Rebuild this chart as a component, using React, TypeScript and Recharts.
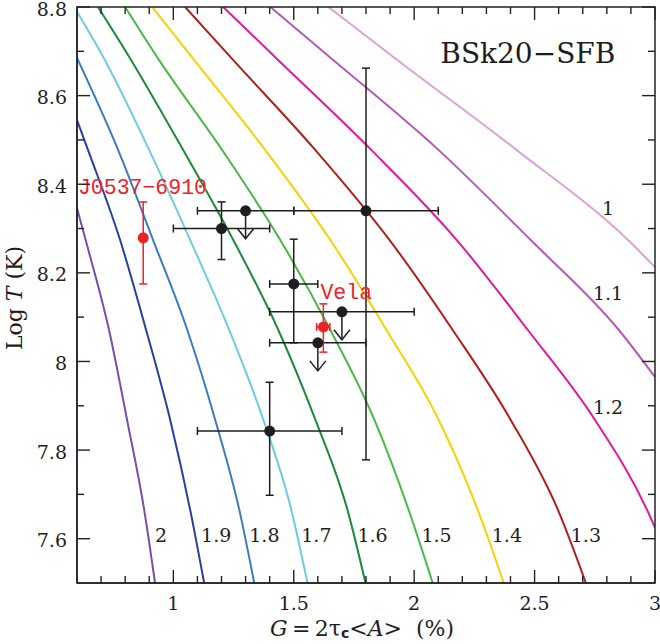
import React from 'react';
import { ComposedChart, Line, Scatter, XAxis, YAxis, ErrorBar, Label } from 'recharts';

const W = 660;
const H = 644;
const PL = 77;
const PR = 655;
const PT = 7;
const PB = 583;
const SERIF = '"DejaVu Serif", serif';
const MONO = '"Liberation Mono", monospace';
const AXIS = '#222222';
const INK = '#1e1e1e';
const RED = '#ee2229';

const xDomain: [number, number] = [0.6, 3];
const yDomain: [number, number] = [7.5, 8.8];
const xMajorTicks = [1, 1.5, 2, 2.5, 3];
const xMinorTicks = [0.7, 0.8, 0.9, 1.1, 1.2, 1.3, 1.4, 1.6, 1.7, 1.8, 1.9, 2.1, 2.2, 2.3, 2.4, 2.6, 2.7, 2.8, 2.9];
const yMajorTicks = [7.6, 7.8, 8, 8.2, 8.4, 8.6, 8.8];
const yMinorTicks = [7.7, 7.9, 8.1, 8.3, 8.5, 8.7];

// cooling curves for stellar masses (label = mass)
const curve20 = [{ x: 0.6, y: 8.346 }, { x: 0.636, y: 8.274 }, { x: 0.733, y: 8.071 }, { x: 0.808, y: 7.868 }, { x: 0.879, y: 7.665 }, { x: 0.924, y: 7.5 }];
const curve19 = [{ x: 0.6, y: 8.545 }, { x: 0.646, y: 8.477 }, { x: 0.779, y: 8.274 }, { x: 0.887, y: 8.071 }, { x: 0.987, y: 7.868 }, { x: 1.07, y: 7.665 }, { x: 1.128, y: 7.5 }];
const curve18 = [{ x: 0.6, y: 8.685 }, { x: 0.771, y: 8.477 }, { x: 0.916, y: 8.274 }, { x: 1.058, y: 8.071 }, { x: 1.174, y: 7.868 }, { x: 1.274, y: 7.665 }, { x: 1.336, y: 7.5 }];
const curve17 = [{ x: 0.6, y: 8.789 }, { x: 0.716, y: 8.68 }, { x: 0.9, y: 8.477 }, { x: 1.07, y: 8.274 }, { x: 1.232, y: 8.071 }, { x: 1.374, y: 7.868 }, { x: 1.49, y: 7.665 }, { x: 1.557, y: 7.5 }];
const curve16 = [{ x: 0.687, y: 8.8 }, { x: 0.825, y: 8.68 }, { x: 1.041, y: 8.477 }, { x: 1.249, y: 8.274 }, { x: 1.436, y: 8.071 }, { x: 1.59, y: 7.868 }, { x: 1.723, y: 7.665 }, { x: 1.798, y: 7.5 }];
const curve15 = [{ x: 0.8, y: 8.8 }, { x: 0.941, y: 8.68 }, { x: 1.203, y: 8.477 }, { x: 1.444, y: 8.274 }, { x: 1.652, y: 8.071 }, { x: 1.835, y: 7.868 }, { x: 1.977, y: 7.665 }, { x: 2.077, y: 7.5 }];
const curve14 = [{ x: 0.912, y: 8.8 }, { x: 1.087, y: 8.68 }, { x: 1.382, y: 8.477 }, { x: 1.652, y: 8.274 }, { x: 1.885, y: 8.071 }, { x: 2.102, y: 7.868 }, { x: 2.264, y: 7.665 }, { x: 2.372, y: 7.5 }];
const curve13 = [{ x: 1.049, y: 8.8 }, { x: 1.249, y: 8.68 }, { x: 1.59, y: 8.477 }, { x: 1.898, y: 8.274 }, { x: 2.16, y: 8.071 }, { x: 2.401, y: 7.868 }, { x: 2.597, y: 7.665 }, { x: 2.713, y: 7.5 }];
const curve12 = [{ x: 1.207, y: 8.8 }, { x: 1.436, y: 8.68 }, { x: 1.823, y: 8.477 }, { x: 2.177, y: 8.274 }, { x: 2.472, y: 8.071 }, { x: 2.751, y: 7.868 }, { x: 2.967, y: 7.665 }, { x: 3.0, y: 7.625 }];
const curve11 = [{ x: 1.403, y: 8.8 }, { x: 1.665, y: 8.68 }, { x: 2.102, y: 8.477 }, { x: 2.484, y: 8.274 }, { x: 2.85, y: 8.071 }, { x: 3.0, y: 7.965 }];
const curve10 = [{ x: 1.644, y: 8.8 }, { x: 1.931, y: 8.68 }, { x: 2.426, y: 8.477 }, { x: 2.888, y: 8.274 }, { x: 3.0, y: 8.213 }];

const curveData = [curve20, curve19, curve18, curve17, curve16, curve15, curve14, curve13, curve12, curve11, curve10];
const curveNames = ['2', '1.9', '1.8', '1.7', '1.6', '1.5', '1.4', '1.3', '1.2', '1.1', '1'];
const curveColors = ['#7a4ea6', '#27409e', '#3a7cc0', '#6fcbe2', '#1b8a3c', '#4cb848', '#f6d200', '#b01f1d', '#e0199a', '#b35ab3', '#d9a3d6'];

// curve label positions
const curveLabelX = [0.949, 1.178, 1.378, 1.594, 1.827, 2.093, 2.385, 2.713, 2.805, 2.805, 2.805];
const curveLabelY = [7.608, 7.608, 7.608, 7.608, 7.608, 7.608, 7.608, 7.608, 7.897, 8.154, 8.346];

// black measurements with two-sided errors
const detections = [
  { x: 1.2, y: 8.3, xLo: 1.0, xHi: 1.4, yLo: 8.23, yHi: 8.36 },
  { x: 1.8, y: 8.34, xLo: 1.5, xHi: 2.1, yLo: 7.778, yHi: 8.662 },
  { x: 1.5, y: 8.175, xLo: 1.4, xHi: 1.6, yLo: 8.042, yHi: 8.276 },
  { x: 1.4, y: 7.843, xLo: 1.1, xHi: 1.7, yLo: 7.698, yHi: 7.953 },
];
// black upper limits
const upperLimits = [
  { x: 1.3, y: 8.34, xLo: 1.1, xHi: 1.5 },
  { x: 1.7, y: 8.112, xLo: 1.4, xHi: 2.0 },
  { x: 1.6, y: 8.042, xLo: 1.4, xHi: 1.8 },
];
// red pulsars
const redPoints = [
  { name: 'J0537\u22126910', x: 0.875, y: 8.279, xLo: 0.875, xHi: 0.875, yLo: 8.175, yHi: 8.36, lx: 0.604, ly: 8.391 },
  { name: 'Vela', x: 1.623, y: 8.078, xLo: 1.595, xHi: 1.65, yLo: 8.021, yHi: 8.13, lx: 1.611, ly: 8.154 },
];

const title = { text: 'BSk20\u2212SFB', x: 2.472, y: 8.696 };

const withErr = (arr: any[]) =>
  arr.map((d) => ({
    ...d,
    ex: [d.x - d.xLo, d.xHi - d.x],
    ey: d.yLo !== undefined ? [d.y - d.yLo, d.yHi - d.y] : undefined,
  }));

const detData = withErr(detections);
const ulData = withErr(upperLimits);
const redData = withErr(redPoints);
const curveLabelData = curveNames.map((t, i) => ({ t, x: curveLabelX[i], y: curveLabelY[i] }));
const redLabelData = redPoints.map((p) => ({ t: p.name, x: p.lx, y: p.ly }));
const titleData = [{ t: title.text, x: title.x, y: title.y }];

const near = (v: number, arr: number[]) => arr.some((m) => Math.abs(m - v) < 1e-6);
const xTicksAll = [...xMinorTicks, ...xMajorTicks].sort((a, b) => a - b);
const yTicksAll = [...yMinorTicks, ...yMajorTicks].sort((a, b) => a - b);
const MAJ = 13;
const MIN = 7;

// same linear mapping as the chart's axes, used for the mirrored frame ticks
const sx = (v: number) => PL + ((v - xDomain[0]) / (xDomain[1] - xDomain[0])) * (PR - PL);
const sy = (v: number) => PB - ((v - yDomain[0]) / (yDomain[1] - yDomain[0])) * (PB - PT);

const BottomTick = (p: any) => {
  const v = p.payload.value;
  const major = near(v, xMajorTicks);
  const len = major ? MAJ : MIN;
  return (
    <g>
      <line x1={p.x} x2={p.x} y1={PB} y2={PB - len} stroke={AXIS} strokeWidth={1.4} />
      {major ? (
        <text x={p.x} y={603} textAnchor="middle" dominantBaseline="central" fontFamily={SERIF} fontSize={19} fill={INK}>
          {String(v)}
        </text>
      ) : null}
    </g>
  );
};
const LeftTick = (p: any) => {
  const v = p.payload.value;
  const major = near(v, yMajorTicks);
  const len = major ? MAJ : MIN;
  return (
    <g>
      <line x1={PL} x2={PL + len} y1={p.y} y2={p.y} stroke={AXIS} strokeWidth={1.4} />
      {major ? (
        <text x={67} y={p.y + 1.5} textAnchor="end" dominantBaseline="central" fontFamily={SERIF} fontSize={19} fill={INK}>
          {String(v)}
        </text>
      ) : null}
    </g>
  );
};

const BlackDot = (p: any) => <circle cx={p.cx} cy={p.cy} r={5.5} fill={INK} />;
const RedDot = (p: any) => <circle cx={p.cx} cy={p.cy} r={5.5} fill={RED} />;
const LimitDot = (p: any) => (
  <g>
    <line x1={p.cx} x2={p.cx} y1={p.cy} y2={p.cy + 28} stroke={INK} strokeWidth={1.5} />
    <polyline points={`${p.cx - 8},${p.cy + 18} ${p.cx},${p.cy + 28} ${p.cx + 8},${p.cy + 18}`} fill="none" stroke={INK} strokeWidth={1.5} />
    <circle cx={p.cx} cy={p.cy} r={5.5} fill={INK} />
  </g>
);
const mkText = (size: number, color: string, family: string, anchor: string) => (p: any) => (
  <text x={p.cx} y={p.cy} textAnchor={anchor as any} dominantBaseline="central" fontFamily={family} fontSize={size} fill={color}>
    {p.payload.t}
  </text>
);
const CurveLabel = mkText(19, INK, SERIF, 'middle');
const TitleText = mkText(28, INK, SERIF, 'middle');
const RedLabel = mkText(21.5, RED, MONO, 'start');

const YLabel = () => (
  <text x={14} y={298} transform="rotate(-90, 14, 298)" textAnchor="middle" dominantBaseline="central" fontFamily={SERIF} fontSize={22} fill={INK}>
    {'Log '}
    <tspan fontStyle="italic">T</tspan>
    {' (K)'}
  </text>
);
const XLabel = () => (
  <text x={362} y={628} textAnchor="middle" dominantBaseline="central" fontFamily={SERIF} fontSize={22} fill={INK}>
    <tspan fontStyle="italic">G</tspan>
    {'\u2009=\u20092\u03c4'}
    <tspan fontSize={14} fontWeight="bold" fontFamily='"DejaVu Sans", sans-serif' dy={5}>c</tspan>
    <tspan dy={-5}>{'<'}</tspan>
    <tspan fontStyle="italic">A</tspan>
    {'>\u00a0\u00a0(%)'}
  </text>
);

const FrameOverlay = () => (
  <svg width={W} height={H} style={{ position: 'absolute', left: 0, top: 0, pointerEvents: 'none', zIndex: 2 }}>
    <rect x={PL} y={PT} width={PR - PL} height={PB - PT} fill="none" stroke={AXIS} strokeWidth={1.5} />
    {xTicksAll.map((v) => {
      const len = near(v, xMajorTicks) ? MAJ : MIN;
      return <line key={'t' + v} x1={sx(v)} x2={sx(v)} y1={PT} y2={PT + len} stroke={AXIS} strokeWidth={1.4} />;
    })}
    {yTicksAll.map((v) => {
      const len = near(v, yMajorTicks) ? MAJ : MIN;
      return <line key={'r' + v} x1={PR} x2={PR - len} y1={sy(v)} y2={sy(v)} stroke={AXIS} strokeWidth={1.4} />;
    })}
  </svg>
);

export default function App() {
  return (
    <div style={{ position: 'absolute', left: 0, top: 0, width: W, height: H, background: '#fff' }}>
      <ComposedChart width={W} height={H} margin={{ top: PT, right: W - PR, bottom: 0, left: 0 }}>
        <XAxis xAxisId="b" dataKey="x" type="number" domain={xDomain} allowDataOverflow ticks={xTicksAll} interval={0}
          tick={BottomTick} tickLine={false} axisLine={{ stroke: AXIS, strokeWidth: 1.5 }} height={H - PB}>
          <Label content={XLabel} />
        </XAxis>
        <YAxis yAxisId="l" dataKey="y" type="number" domain={yDomain} allowDataOverflow ticks={yTicksAll} interval={0}
          tick={LeftTick} tickLine={false} axisLine={{ stroke: AXIS, strokeWidth: 1.5 }} width={PL}>
          <Label content={YLabel} />
        </YAxis>

        {curveData.map((d, i) => (
          <Line key={curveNames[i]} xAxisId="b" yAxisId="l" data={d} dataKey="y" type="monotone" stroke={curveColors[i]}
            strokeWidth={2} dot={false} activeDot={false} isAnimationActive={false} />
        ))}

        <Scatter xAxisId="b" yAxisId="l" data={curveLabelData} shape={CurveLabel} isAnimationActive={false} />
        <Scatter xAxisId="b" yAxisId="l" data={titleData} shape={TitleText} isAnimationActive={false} />
        <Scatter xAxisId="b" yAxisId="l" data={redLabelData} shape={RedLabel} isAnimationActive={false} />

        <Scatter xAxisId="b" yAxisId="l" data={detData} shape={BlackDot} isAnimationActive={false}>
          <ErrorBar dataKey="ex" direction="x" width={4} stroke={INK} strokeWidth={1.5} />
          <ErrorBar dataKey="ey" direction="y" width={4} stroke={INK} strokeWidth={1.5} />
        </Scatter>
        <Scatter xAxisId="b" yAxisId="l" data={ulData} shape={LimitDot} isAnimationActive={false}>
          <ErrorBar dataKey="ex" direction="x" width={4} stroke={INK} strokeWidth={1.5} />
        </Scatter>
        <Scatter xAxisId="b" yAxisId="l" data={redData} shape={RedDot} isAnimationActive={false}>
          <ErrorBar dataKey="ex" direction="x" width={4} stroke={RED} strokeWidth={1.5} />
          <ErrorBar dataKey="ey" direction="y" width={4} stroke={RED} strokeWidth={1.5} />
        </Scatter>
      </ComposedChart>
      <FrameOverlay />
    </div>
  );
}
